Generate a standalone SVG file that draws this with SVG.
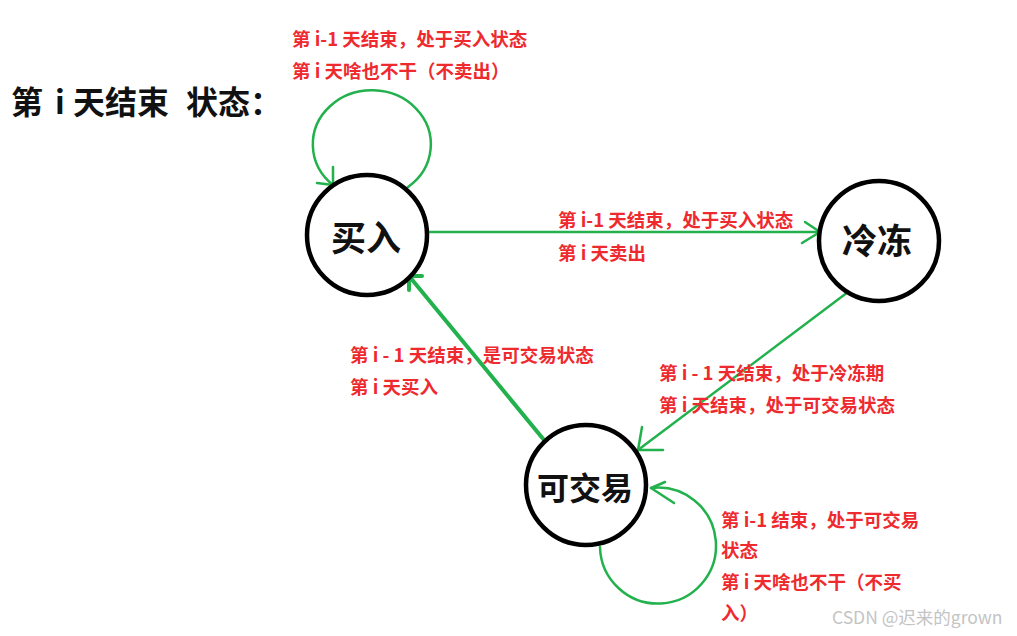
<svg xmlns="http://www.w3.org/2000/svg" width="1017" height="636" viewBox="0 0 1017 636">
<style>
.node{fill:#fff;stroke:#000;stroke-width:4.5}
.nl{font-family:"Noto Sans CJK SC","Noto Sans",sans-serif;font-weight:bold;fill:#111;text-anchor:middle}
.lbl{font-family:"Noto Sans CJK SC","Noto Sans",sans-serif;font-weight:bold;font-size:18.5px;fill:#ee2a2f}
.e{fill:none;stroke:#22b14c;stroke-width:2.5;stroke-linecap:round;stroke-linejoin:round}
</style>
<rect width="1017" height="636" fill="#fff"/>
<text y="114" font-family="'Noto Sans CJK SC',sans-serif" font-weight="bold" font-size="32" fill="#111"><tspan x="11">第</tspan><tspan x="55">i</tspan><tspan x="73">天结束</tspan><tspan x="186">状态：</tspan></text>
<g id="edges">
<path class="e" d="M408,187 A59,54 0 1 0 333,185"/>
<path class="e" d="M333,167 L333,185 L317,183"/>
<path class="e" d="M429,232 L820,232"/>
<path class="e" d="M805,222 L820,232 L802,243"/>
<path class="e" d="M848,292 L638,450"/>
<path class="e" d="M642,427 L638,450 L663,450"/>
<path class="e" style="stroke-width:4" d="M544,440 L409,276"/>
<path class="e" style="stroke-width:4" d="M422,276 L409,276 L409,290"/>
<path class="e" d="M600,547 A58,58 0 1 0 651,488"/>
<path class="e" d="M665,482 L651,488 L674,503"/>
</g>
<g id="n-buy">
<circle class="node" cx="367" cy="235" r="60"/>
<text class="nl" x="366" y="251" font-size="35">买入</text>
</g>
<g id="n-freeze">
<circle class="node" cx="879" cy="241" r="60"/>
<text class="nl" x="877" y="254" font-size="35">冷冻</text>
</g>
<g id="n-trade">
<circle class="node" cx="586" cy="485" r="60"/>
<text class="nl" x="585" y="500" font-size="32">可交易</text>
</g>
<g id="labels">
<text class="lbl" x="292" y="46">第 i-1 天结束，处于买入状态</text>
<text class="lbl" x="292" y="78">第 i 天啥也不干（不卖出）</text>
<text class="lbl" x="558" y="227">第 i-1 天结束，处于买入状态</text>
<text class="lbl" x="558" y="260">第 i 天卖出</text>
<text class="lbl" x="350" y="362">第 i - 1 天结束，是可交易状态</text>
<text class="lbl" x="350" y="394">第 i 天买入</text>
<text class="lbl" x="659" y="380">第 i - 1 天结束，处于冷冻期</text>
<text class="lbl" x="659" y="412">第 i 天结束，处于可交易状态</text>
<text class="lbl" x="721" y="527">第 i-1 结束，处于可交易</text>
<text class="lbl" x="721" y="557">状态</text>
<text class="lbl" x="721" y="589">第 i 天啥也不干（不买</text>
<text class="lbl" x="721" y="620">入）</text>
</g>
<text x="832" y="624" font-family="'Noto Sans CJK SC',sans-serif" font-size="17.5" fill="#c4c4c4">CSDN @迟来的grown</text>
</svg>
